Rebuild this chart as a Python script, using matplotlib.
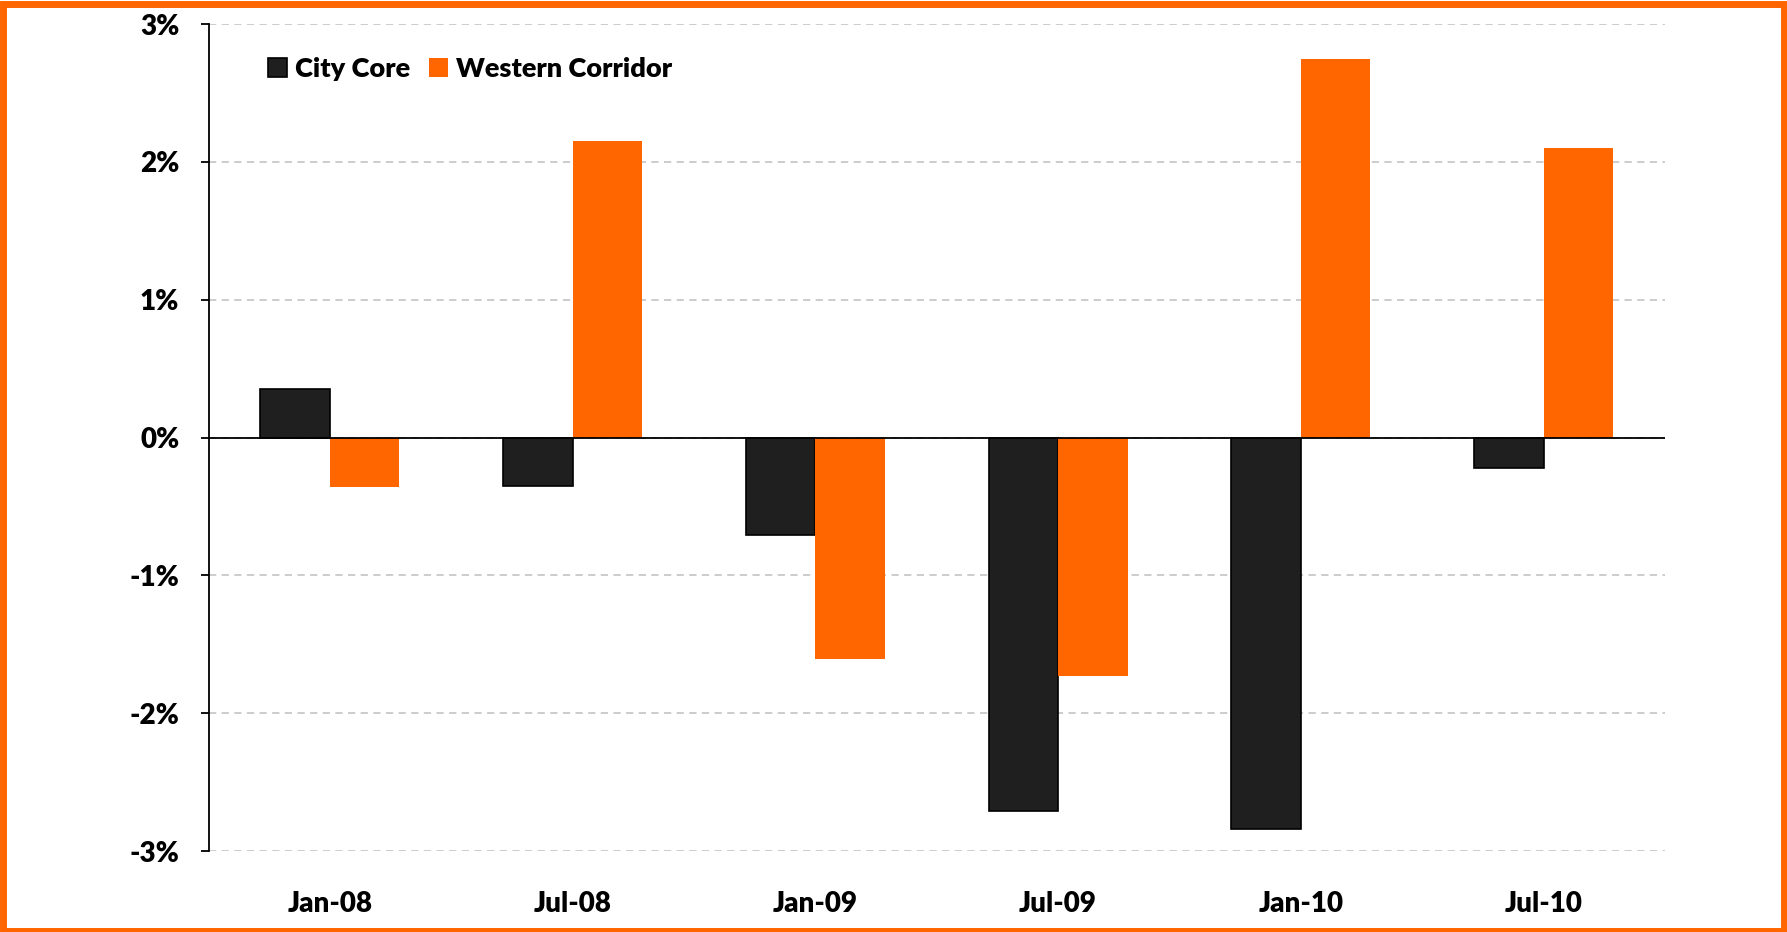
import numpy as np
import matplotlib
matplotlib.use("Agg")
import matplotlib.pyplot as plt
from matplotlib.patches import Rectangle
from matplotlib.ticker import FuncFormatter

periods = ["Jan-08", "Jul-08", "Jan-09", "Jul-09", "Jan-10", "Jul-10"]
city_core = [0.355, -0.35, -0.71, -2.71, -2.84, -0.22]
western_corridor = [-0.36, 2.15, -1.61, -1.73, 2.75, 2.10]

orange = "#FF6600"
dark = "#1F1F1F"

plt.rcParams["font.family"] = ["Lato", "DejaVu Sans"]

fig = plt.figure(figsize=(17.87, 9.32), dpi=100)
ax = fig.add_axes([0.1167, 0.0869, 0.815, 0.8873])

x = np.arange(len(periods))
w = 0.286
ax.bar(x - w / 2, city_core, w, color=dark, edgecolor="black", linewidth=1.2,
       label="City Core", zorder=3)
ax.bar(x + w / 2, western_corridor, w, color=orange, edgecolor="none",
       label="Western Corridor", zorder=3)

ax.set_xlim(-0.5, len(periods) - 0.5)
ax.set_ylim(-3, 3)
ax.set_yticks(np.arange(-3, 4, 1))
ax.yaxis.set_major_formatter(FuncFormatter(lambda v, p: f"{v:.0f}%"))
ax.grid(axis="y", color="#C8C8C8", linestyle=(0, (4, 3)), linewidth=1.3, zorder=0)
ax.axhline(0, color="black", linewidth=1.3, zorder=4)

for s in ["top", "right", "bottom"]:
    ax.spines[s].set_visible(False)
ax.spines["left"].set_linewidth(1.3)

ax.set_xticks(x)
ax.set_xticklabels(periods)
ax.tick_params(axis="x", length=0, pad=29, labelsize=20)
ax.tick_params(axis="y", length=6, width=1.3, pad=15, labelsize=20)
for lbl in ax.get_xticklabels() + ax.get_yticklabels():
    lbl.set_fontweight("heavy")

leg = ax.legend(loc="upper left", bbox_to_anchor=(0.024, 0.99), ncol=2, frameon=False,
                prop={"weight": "heavy", "size": 19.5}, handlelength=0.7, handleheight=0.7,
                handletextpad=0.3, columnspacing=0.7)

fig.patches.append(Rectangle((0.0015, 0.0015), 0.997, 0.994, transform=fig.transFigure,
                             fill=False, edgecolor=orange, linewidth=5))

fig.savefig("out.png", dpi=100)
